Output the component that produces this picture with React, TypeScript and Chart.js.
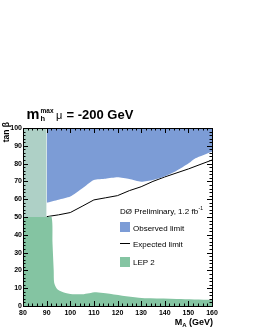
import React, { useEffect, useRef } from "react";
import { Chart, registerables } from "chart.js";

Chart.register(...registerables);

// ---- data ----
const observedX = [90, 95, 100, 105, 110, 115, 120, 125, 130, 135, 139, 145, 150, 153, 160];
const observedY = [58, 59.7, 61.5, 66, 70.8, 71.5, 72.3, 71.3, 69.8, 70.8, 72.3, 76, 80, 83, 86.7];

const expectedX = [90, 95, 100, 105, 110, 115, 120, 125, 130, 135, 140, 150, 160];
const expectedY = [50.2, 51.2, 52.5, 56, 59.6, 60.8, 62, 64.8, 67, 70, 72.5, 77, 82];

const lepX = [80, 90, 92.1, 92.5, 93, 93.2, 94.2, 95.5, 97, 99, 101, 105, 108, 111, 115, 122, 129, 134, 145, 160];
const lepY = [50, 50, 50, 35, 20, 13, 10, 8.5, 7.7, 7, 6.6, 6.6, 7.2, 7.7, 7.1, 5.8, 4.7, 4.3, 4, 3.5];

const lepLightX = [80, 90];
const lepLightY = [100, 100];
const lepLightBase = 50;

const xTickValues = [80, 90, 100, 110, 120, 130, 140, 150, 160];
const yTickValues = [0, 10, 20, 30, 40, 50, 60, 70, 80, 90, 100];

const titleMain = "m";
const titleSub = "h";
const titleSup = "max";
const titleMu = "μ";
const titleRest = "= -200 GeV";
const yTitle = "tan β";
const xTitleMain = "M";
const xTitleSub = "A";
const xTitleRest = " (GeV)";
const legendHeader = "DØ Preliminary, 1.2 fb";
const legendHeaderSup = "-1";
const legendLabels = ["Observed limit", "Expected limit", "LEP 2"];

const BLUE = "rgb(124,156,214)";
const GREEN = "rgb(132,196,162)";
const LIGHT = "rgb(174,208,198)";
const FONT = "'Liberation Sans', Arial, sans-serif";

const zip = (xs: number[], ys: number[]) => xs.map((x, i) => ({ x, y: ys[i] }));

const decorPlugin = {
  id: "decor",
  afterDatasetsDraw(chart: any) {
    const { ctx, chartArea: a, scales } = chart;
    const xs = scales.x;
    const ys = scales.y;
    ctx.save();
    ctx.strokeStyle = "#000";
    ctx.lineWidth = 1;
    // inner ticks
    ctx.beginPath();
    for (let v = 80; v <= 160; v += 2) {
      const px = Math.round(xs.getPixelForValue(v)) + 0.5;
      const len = v % 10 === 0 ? 5 : 2.5;
      ctx.moveTo(px, a.bottom);
      ctx.lineTo(px, a.bottom - len);
      ctx.moveTo(px, a.top);
      ctx.lineTo(px, a.top + len);
    }
    for (let v = 0; v <= 100; v += 2) {
      const py = Math.round(ys.getPixelForValue(v)) + 0.5;
      const len = v % 10 === 0 ? 5 : 2.5;
      ctx.moveTo(a.left, py);
      ctx.lineTo(a.left + len, py);
      ctx.moveTo(a.right, py);
      ctx.lineTo(a.right - len, py);
    }
    ctx.stroke();
    ctx.strokeRect(Math.round(a.left) + 0.5, Math.round(a.top) + 0.5, Math.round(a.right - a.left), Math.round(a.bottom - a.top));

    // title
    ctx.fillStyle = "#000";
    ctx.textBaseline = "alphabetic";
    ctx.textAlign = "left";
    ctx.font = `bold 14.5px ${FONT}`;
    ctx.fillText(titleMain, 26.5, 118.5);
    ctx.font = `bold 6.5px ${FONT}`;
    ctx.fillText(titleSup, 40.5, 113);
    ctx.font = `bold 7.5px ${FONT}`;
    ctx.fillText(titleSub, 40.5, 121);
    ctx.font = `11px ${FONT}`;
    ctx.fillText(titleMu, 56, 118.5);
    ctx.font = `bold 13px ${FONT}`;
    ctx.fillText(titleRest, 66.5, 118.5);

    // y title
    ctx.save();
    ctx.translate(8.5, a.top - 6);
    ctx.rotate(-Math.PI / 2);
    ctx.font = `bold 8.5px ${FONT}`;
    ctx.textAlign = "right";
    ctx.fillText(yTitle, 0, 0);
    ctx.restore();

    // x title
    ctx.font = `bold 9px ${FONT}`;
    const wRest = ctx.measureText(xTitleRest).width;
    const wM = ctx.measureText(xTitleMain).width;
    ctx.font = `bold 6px ${FONT}`;
    const wA = ctx.measureText(xTitleSub).width;
    const xEnd = a.right + 1;
    const xStart = xEnd - wRest - wA - wM;
    ctx.font = `bold 9px ${FONT}`;
    ctx.fillText(xTitleMain, xStart, 325);
    ctx.fillText(xTitleRest, xStart + wM + wA, 325);
    ctx.font = `bold 6px ${FONT}`;
    ctx.fillText(xTitleSub, xStart + wM, 327);

    // legend
    const lx = 120;
    ctx.font = `8px ${FONT}`;
    ctx.fillText(legendHeader, lx, 214);
    const wh = ctx.measureText(legendHeader).width;
    ctx.font = `5px ${FONT}`;
    ctx.fillText(legendHeaderSup, lx + wh + 0.5, 210);

    ctx.fillStyle = BLUE;
    ctx.fillRect(lx, 222, 10, 10);
    ctx.beginPath();
    ctx.moveTo(lx, 243.5);
    ctx.lineTo(lx + 10, 243.5);
    ctx.stroke();
    ctx.fillStyle = GREEN;
    ctx.fillRect(lx, 257, 10, 10);

    ctx.fillStyle = "#000";
    ctx.font = `8px ${FONT}`;
    ctx.fillText(legendLabels[0], lx + 13, 230.5);
    ctx.fillText(legendLabels[1], lx + 13, 246.5);
    ctx.fillText(legendLabels[2], lx + 13, 265);
    ctx.restore();
  },
};

export default function App() {
  const ref = useRef<HTMLCanvasElement | null>(null);
  useEffect(() => {
    if (!ref.current) return;
    const chart = new Chart(ref.current, {
      type: "line",
      data: {
        datasets: [
          {
            label: "LEP light",
            data: zip(lepLightX, lepLightY),
            borderWidth: 0,
            pointRadius: 0,
            backgroundColor: LIGHT,
            fill: { value: lepLightBase },
          } as any,
          {
            label: "LEP 2",
            data: zip(lepX, lepY),
            borderWidth: 0,
            pointRadius: 0,
            backgroundColor: GREEN,
            fill: "start",
            tension: 0.3,
          },
          {
            label: "Observed limit",
            data: zip(observedX, observedY),
            borderWidth: 0,
            pointRadius: 0,
            backgroundColor: BLUE,
            fill: "end",
            tension: 0.2,
          },
          {
            label: "Expected limit",
            data: zip(expectedX, expectedY),
            borderWidth: 1,
            borderColor: "#000",
            pointRadius: 0,
            fill: false,
          },
        ],
      },
      options: {
        responsive: false,
        animation: false,
        layout: { padding: { left: 0, right: 43, top: 128, bottom: 0 } },
        plugins: { legend: { display: false }, title: { display: false }, tooltip: { enabled: false } },
        scales: {
          x: {
            type: "linear",
            min: 80,
            max: 160,
            afterFit: (s: any) => {
              s.height = 24;
            },
            afterBuildTicks: (s: any) => {
              s.ticks = xTickValues.map((v) => ({ value: v }));
            },
            grid: { display: false, drawTicks: false },
            border: { display: false },
            ticks: { color: "#000", font: { family: FONT, size: 7, weight: "bold" }, padding: 3, maxRotation: 0, autoSkip: false },
          },
          y: {
            type: "linear",
            min: 0,
            max: 100,
            afterFit: (s: any) => {
              s.width = 23;
            },
            afterBuildTicks: (s: any) => {
              s.ticks = yTickValues.map((v) => ({ value: v }));
            },
            grid: { display: false, drawTicks: false },
            border: { display: false },
            ticks: { color: "#000", font: { family: FONT, size: 7, weight: "bold" }, padding: 1, autoSkip: false },
          },
        },
      },
      plugins: [decorPlugin],
    });
    return () => chart.destroy();
  }, []);
  return (
    <div style={{ position: "absolute", left: 0, top: 0, width: 255, height: 330, background: "#fff" }}>
      <canvas ref={ref} width={255} height={330} style={{ width: 255, height: 330 }} />
    </div>
  );
}
